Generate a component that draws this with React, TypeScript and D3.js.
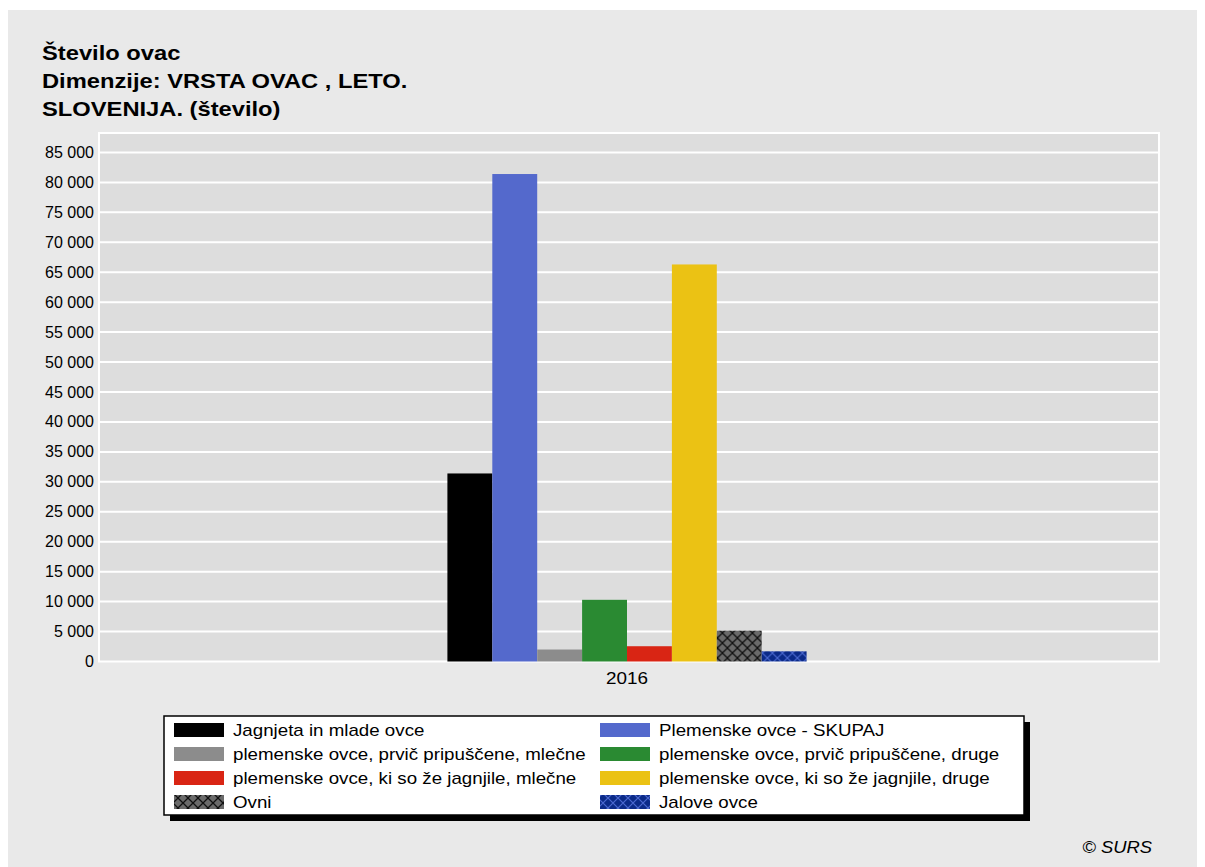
import React from "react";
import * as d3 from "d3";

// Sheep counts by type, Slovenia, 2016
const years = ["2016"];
const seriesNames = [
  "Jagnjeta in mlade ovce",
  "Plemenske ovce - SKUPAJ",
  "plemenske ovce, prvič pripuščene, mlečne",
  "plemenske ovce, prvič pripuščene, druge",
  "plemenske ovce, ki so že jagnjile, mlečne",
  "plemenske ovce, ki so že jagnjile, druge",
  "Ovni",
  "Jalove ovce",
];
const values2016 = [31400, 81400, 2000, 10300, 2550, 66300, 5150, 1700];
const yTicks = [0, 5000, 10000, 15000, 20000, 25000, 30000, 35000, 40000, 45000, 50000, 55000, 60000, 65000, 70000, 75000, 80000, 85000];
const titleLines = ["Število ovac", "Dimenzije: VRSTA OVAC , LETO.", "SLOVENIJA. (število)"];

const fills = [
  "#000000",
  "#5469cc",
  "#8c8c8c",
  "#2a8a32",
  "#d92514",
  "#ebc214",
  "url(#hatchOvni)",
  "url(#hatchJalove)",
];

const FONT = "'Liberation Sans', Arial, sans-serif";

const fmt = (v: number) => d3.format(",")(v).replace(/,/g, " ");

// text drawn with a slight horizontal stretch
function WideText({
  x,
  y,
  sx,
  children,
  ...rest
}: { x: number; y: number; sx: number; children: React.ReactNode } & React.SVGProps<SVGTextElement>) {
  return (
    <g transform={`translate(${x},${y}) scale(${sx},1)`}>
      <text x={0} y={0} {...rest}>
        {children}
      </text>
    </g>
  );
}

export default function App() {
  const W = 1197;
  const H = 859;
  const plot = { left: 91, right: 1151, top: 125, bottom: 653.5 };

  const y = d3.scaleLinear().domain([0, 88250]).range([plot.bottom, plot.top]);
  const x0 = d3
    .scaleBand<string>()
    .domain(years)
    .range([plot.left, plot.right - 4])
    .paddingInner(0)
    .paddingOuter(0.97);
  const x1 = d3
    .scaleBand<number>()
    .domain(d3.range(seriesNames.length))
    .range([0, x0.bandwidth()]);

  const legend = { x: 156, y: 708, w: 860, h: 99 };
  const rowH = 24;
  const colX = [legend.x + 10, legend.x + 436];

  return (
    <svg width={W} height={H} style={{ display: "block" }} fontFamily={FONT}>
      <defs>
        <pattern id="hatchOvni" width="10" height="10" patternUnits="userSpaceOnUse">
          <rect width="10" height="10" fill="#6a6a6a" />
          <path d="M0,0 L10,10 M10,0 L0,10" stroke="#111" strokeWidth="1.3" />
        </pattern>
        <pattern id="hatchJalove" width="10" height="10" patternUnits="userSpaceOnUse">
          <rect width="10" height="10" fill="#0b2a88" />
          <path d="M0,0 L10,10 M10,0 L0,10" stroke="#4a68cf" strokeWidth="1.2" />
        </pattern>
      </defs>

      {/* page panel */}
      <rect x={0} y={2} width={W} height={H - 2} fill="#e9e9e9" />

      {/* title */}
      {titleLines.map((t, i) => (
        <WideText key={i} x={34} y={52 + i * 28} sx={1.13} fontSize={21} fontWeight="bold" fill="#000">
          {t}
        </WideText>
      ))}

      {/* plot background */}
      <rect
        x={plot.left}
        y={plot.top}
        width={plot.right - plot.left}
        height={plot.bottom - plot.top}
        fill="#dddddd"
        stroke="#ffffff"
        strokeWidth={2}
      />

      {/* gridlines and y tick labels */}
      {yTicks.map((t) => (
        <g key={t}>
          {t > 0 && (
            <line x1={plot.left} x2={plot.right} y1={y(t)} y2={y(t)} stroke="#ffffff" strokeWidth={2} />
          )}
          <text x={plot.left - 5} y={y(t) + 5.5} fontSize={16} textAnchor="end" fill="#000">
            {fmt(t)}
          </text>
        </g>
      ))}

      {/* bars */}
      {years.map((yr) => (
        <g key={yr} transform={`translate(${x0(yr)},0)`}>
          {values2016.map((v, i) => (
            <rect
              key={i}
              x={x1(i)}
              y={y(v)}
              width={x1.bandwidth()}
              height={y(0) - y(v)}
              fill={fills[i]}
            />
          ))}
        </g>
      ))}

      {/* x axis label */}
      {years.map((yr) => (
        <g key={yr} transform={`translate(${(x0(yr) as number) + x0.bandwidth() / 2},${plot.bottom + 22}) scale(1.18,1)`}>
          <text x={0} y={0} fontSize={16} textAnchor="middle" fill="#000">
            {yr}
          </text>
        </g>
      ))}

      {/* legend */}
      <rect x={legend.x + 6} y={legend.y + 6} width={legend.w} height={legend.h} fill="#000" />
      <rect x={legend.x} y={legend.y} width={legend.w} height={legend.h} fill="#fff" stroke="#000" strokeWidth={1.5} />
      {seriesNames.map((name, i) => {
        const col = i % 2;
        const row = Math.floor(i / 2);
        const cy = legend.y + 14 + row * rowH;
        return (
          <g key={name}>
            <rect x={colX[col]} y={cy - 7} width={50} height={14} fill={fills[i]} />
            <WideText x={colX[col] + 59} y={cy + 6} sx={1.17} fontSize={16} fill="#000">
              {name}
            </WideText>
          </g>
        );
      })}

      {/* source */}
      <g transform="translate(1144,845) scale(1.15,1)">
        <text x={0} y={0} fontSize={16} fontStyle="italic" textAnchor="end" fill="#000">
          © SURS
        </text>
      </g>
    </svg>
  );
}
